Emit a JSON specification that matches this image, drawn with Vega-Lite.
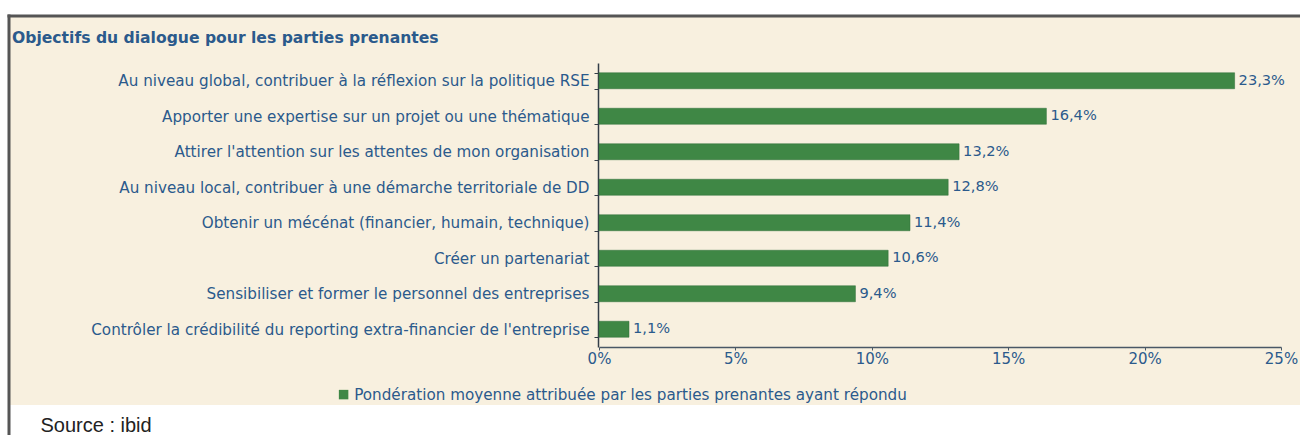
{
  "$schema": "https://vega.github.io/schema/vega-lite/v6.json",
  "autosize": {"type": "none"},
  "width": 1290,
  "height": 388,
  "padding": {"left": 10, "top": 17, "right": 0, "bottom": 30},
  "background": "#ffffff",
  "title": {
    "text": "Objectifs du dialogue pour les parties prenantes",
    "anchor": "start",
    "frame": "group",
    "orient": "top",
    "offset": -37,
    "dx": 2,
    "font": "DejaVu Sans",
    "fontSize": 15.6,
    "fontWeight": "bold",
    "color": "#2b5a8c"
  },
  "config": {
    "locale": {"number": {"decimal": ",", "thousands": " ", "grouping": [3], "currency": ["", " €"]}},
    "view": {"fill": "#f8f0df", "stroke": null},
    "font": "DejaVu Sans"
  },
  "data": {
    "values": [
      {"objectif": "Au niveau global, contribuer à la réflexion sur la politique RSE", "valeur": 0.233},
      {"objectif": "Apporter une expertise sur un projet ou une thématique", "valeur": 0.164},
      {"objectif": "Attirer l'attention sur les attentes de mon organisation", "valeur": 0.132},
      {"objectif": "Au niveau local, contribuer à une démarche territoriale de DD", "valeur": 0.128},
      {"objectif": "Obtenir un mécénat (financier, humain, technique)", "valeur": 0.114},
      {"objectif": "Créer un partenariat", "valeur": 0.106},
      {"objectif": "Sensibiliser et former le personnel des entreprises", "valeur": 0.094},
      {"objectif": "Contrôler la crédibilité du reporting extra-financier de l'entreprise", "valeur": 0.011}
    ]
  },
  "resolve": {"scale": {"x": "independent", "y": "independent", "color": "independent"}},
  "layer": [
    {
      "encoding": {
        "y": {
          "field": "objectif",
          "type": "nominal",
          "sort": null,
          "scale": {"range": [46, 330], "paddingInner": 0.55, "paddingOuter": 0.275},
          "axis": {
            "orient": "left",
            "offset": -588,
            "title": null,
            "labelFont": "DejaVu Sans",
            "labelFontSize": 15.2,
            "labelColor": "#2b5a8c",
            "labelPadding": 5,
            "labelLimit": 700,
            "tickBand": "extent",
            "tickSize": 4,
            "tickColor": "#333d48",
            "domainColor": "#333d48",
            "domainWidth": 1.5,
            "grid": false
          }
        },
        "x": {
          "field": "valeur",
          "type": "quantitative",
          "scale": {"domain": [0, 0.25], "range": [589, 1271], "nice": false},
          "axis": {
            "orient": "bottom",
            "offset": -58,
            "values": [0, 0.05, 0.1, 0.15, 0.2, 0.25],
            "format": ".0%",
            "grid": false,
            "labelFlush": false,
            "labelFont": "DejaVu Sans",
            "labelFontSize": 15,
            "labelColor": "#2b5a8c",
            "labelPadding": 1,
            "tickSize": 3,
            "tickColor": "#4a5866",
            "domainColor": "#4a5866",
            "domainWidth": 1.5,
            "title": "Source : ibid",
            "titleFont": "Liberation Sans",
            "titleFontSize": 20,
            "titleFontWeight": "normal",
            "titleColor": "#222222",
            "titleX": 30,
            "titleY": 78,
            "titleAlign": "left",
            "titleBaseline": "middle",
            "titleAnchor": null
          }
        }
      },
      "layer": [
        {
          "mark": {"type": "bar", "stroke": "#2f6e38", "strokeWidth": 0.5},
          "encoding": {
            "color": {
              "datum": "Pondération moyenne attribuée par les parties prenantes ayant répondu",
              "type": "nominal",
              "scale": {"range": ["#3f8745"]},
              "legend": {
                "orient": "none",
                "legendX": 326,
                "legendY": 370,
                "title": null,
                "padding": 0,
                "symbolType": "square",
                "symbolSize": 90,
                "symbolStrokeWidth": 0,
                "labelFont": "DejaVu Sans",
                "labelFontSize": 15.2,
                "labelLimit": 1000,
                "labelColor": "#2b5a8c",
                "labelOffset": 3
              }
            }
          }
        },
        {
          "mark": {"type": "text", "align": "left", "baseline": "middle", "dx": 4, "font": "DejaVu Sans", "fontSize": 14.6, "color": "#2b5a8c"},
          "encoding": {
            "text": {"field": "valeur", "type": "quantitative", "format": ".1%"}
          }
        }
      ]
    },
    {
      "mark": {"type": "point", "opacity": 0},
      "encoding": {
        "x": {
          "field": "valeur",
          "type": "quantitative",
          "scale": {"range": [-3, 1293]},
          "axis": {"orient": "top", "offset": 1.5, "labels": false, "ticks": false, "grid": false, "title": null, "domainColor": "#555555", "domainWidth": 3}
        },
        "y": {
          "field": "objectif",
          "type": "nominal",
          "scale": {"range": [-3, 420]},
          "axis": {"orient": "right", "offset": -1291.5, "labels": false, "ticks": false, "grid": false, "title": null, "domainColor": "#555555", "domainWidth": 3}
        }
      }
    }
  ]
}
